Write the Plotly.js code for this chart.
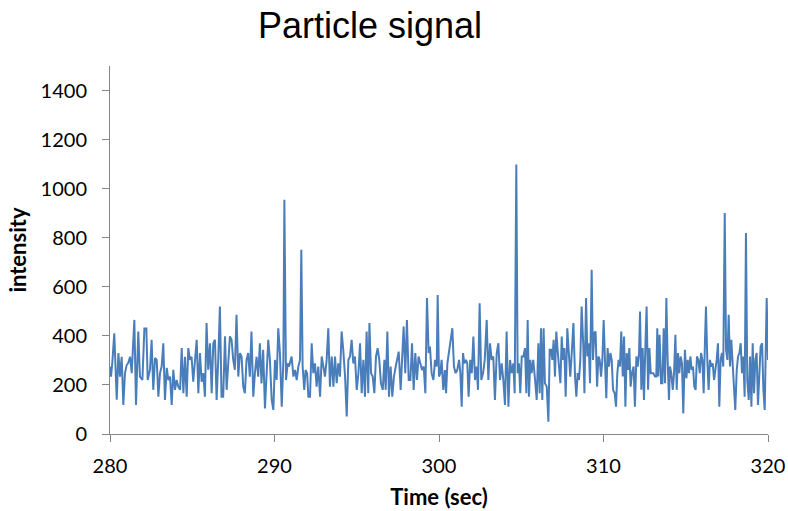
<!DOCTYPE html>
<html>
<head>
<meta charset="utf-8">
<script src="https://cdn.plot.ly/plotly-3.0.1.min.js"></script>
<style>
html,body{margin:0;padding:0;background:#fff;}
#chart{width:788px;height:511px;}
</style>
</head>
<body>
<div id="chart"></div>
<script>
// Time stamps (sec)
var timeSec = [
280.00,280.06,280.14,280.26,280.41,280.51,280.61,280.71,280.81,280.91,281.01,281.11,281.22,281.32,281.48,281.58,281.72,281.82,281.97,282.09,282.21,282.29,282.43,282.53,282.63,282.74,282.84,282.94,283.04,283.14,283.24,283.34,283.45,283.55,283.65,283.75,283.85,283.95,284.05,284.15,284.26,284.36,284.46,284.56,284.66,284.76,284.86,
284.96,285.06,285.17,285.27,285.37,285.47,285.57,285.67,285.77,285.87,285.97,286.08,286.18,286.28,286.38,286.48,286.58,286.68,286.78,286.88,286.99,287.09,287.19,287.29,287.39,287.49,287.59,287.69,287.80,287.90,288.00,288.10,288.20,288.30,288.40,288.50,288.60,288.71,288.81,288.91,289.01,289.11,289.21,289.31,289.42,289.52,289.62,289.72,
289.83,289.93,290.03,290.13,290.23,290.33,290.44,290.54,290.60,290.70,290.80,290.88,290.96,291.04,291.15,291.25,291.35,291.45,291.55,291.63,291.71,291.81,291.89,291.98,292.06,292.16,292.26,292.36,292.46,292.56,292.66,292.77,292.87,292.97,293.07,293.17,293.27,293.37,293.48,293.58,293.68,293.78,293.88,293.98,294.08,294.18,294.29,294.39,294.49,294.59,
294.69,294.79,294.89,295.00,295.10,295.20,295.30,295.40,295.50,295.60,295.70,295.77,295.87,295.97,296.07,296.17,296.27,296.37,296.47,296.58,296.68,296.76,296.86,296.96,297.06,297.16,297.26,297.37,297.47,297.55,297.67,297.77,297.85,297.95,298.05,298.16,298.26,298.36,298.46,298.56,298.66,298.76,298.87,298.97,299.07,299.17,299.27,299.37,299.45,
299.55,299.66,299.76,299.86,299.92,300.00,300.08,300.16,300.26,300.36,300.43,300.51,300.61,300.71,300.81,300.91,301.01,301.11,301.22,301.30,301.38,301.46,301.54,301.64,301.72,301.80,301.90,301.99,302.09,302.19,302.29,302.37,302.47,302.57,302.68,302.78,302.90,303.00,303.10,303.20,303.30,303.40,303.51,303.61,303.71,303.81,303.91,304.01,304.11,304.22,304.32,
304.42,304.52,304.60,304.70,304.78,304.86,304.94,305.03,305.13,305.23,305.31,305.39,305.47,305.55,305.63,305.73,305.84,305.94,306.04,306.12,306.20,306.28,306.36,306.44,306.55,306.65,306.73,306.81,306.89,306.97,307.05,307.13,307.21,307.30,307.38,307.46,307.54,307.62,307.70,307.80,307.90,307.98,308.07,308.17,308.27,308.35,308.43,308.51,308.59,308.67,308.77,308.84,308.94,309.02,309.10,309.18,
309.28,309.36,309.44,309.52,309.61,309.69,309.77,309.85,309.93,310.01,310.09,310.17,310.25,310.33,310.42,310.50,310.58,310.68,310.76,310.84,310.92,311.00,311.08,311.17,311.25,311.33,311.41,311.49,311.57,311.65,311.73,311.83,311.91,312.00,312.08,312.16,312.22,312.30,312.38,312.46,312.54,312.62,312.71,312.79,312.87,312.95,313.03,313.13,313.21,313.27,313.33,313.41,313.50,313.58,313.66,313.74,313.82,313.90,313.98,314.04,
314.12,314.21,314.29,314.37,314.45,314.53,314.61,314.69,314.77,314.85,314.95,315.04,315.12,315.20,315.28,315.36,315.44,315.52,315.60,315.68,315.77,315.85,315.93,316.01,316.09,316.17,316.23,316.31,316.39,316.47,316.56,316.64,316.72,316.80,316.88,316.96,317.04,317.12,317.20,317.28,317.37,317.45,317.53,317.61,317.69,317.77,317.85,317.93,318.01,318.10,318.18,318.26,318.34,318.42,318.50,318.58,318.66,318.74,318.83,318.91,
318.99,319.07,319.15,319.23,319.31,319.39,319.47,319.55,319.64,319.72,319.80,319.86,319.92,320.00
];
// Intensity values
var intensity = [
275,234,290,410,140,330,234,315,118,248,280,290,315,248,465,118,418,234,220,430,430,220,262,384,180,310,302,152,248,275,370,139,270,220,234,118,262,180,220,193,180,350,166,315,152,350,302,
315,213,315,384,166,330,213,248,152,452,262,370,166,370,384,139,302,520,152,152,398,180,290,398,384,302,262,486,234,330,315,193,166,302,330,234,418,152,248,315,234,370,206,343,104,248,384,302,
139,98,302,220,431,330,111,302,955,220,288,275,302,316,234,261,220,275,302,751,275,180,261,248,152,152,370,248,288,193,275,152,316,275,234,302,431,193,316,193,316,207,288,234,418,343,234,71,302,316,
384,288,316,180,248,370,166,302,152,418,166,452,248,234,166,316,350,302,207,180,302,180,418,152,275,152,234,275,302,336,180,302,438,248,465,220,220,370,180,330,220,316,288,261,275,166,554,330,356,
248,220,302,275,567,234,248,302,180,261,166,288,330,370,431,275,248,261,302,248,111,330,288,302,288,152,302,248,397,220,275,180,533,220,248,302,465,220,370,302,316,139,330,370,220,288,220,118,418,111,302,
248,288,166,1098,248,288,166,316,316,350,166,465,152,302,248,302,220,139,370,166,431,139,431,207,193,50,343,343,302,384,234,418,343,275,207,397,302,350,152,431,288,234,330,452,234,152,248,220,302,520,363,166,554,316,370,207,
669,302,411,418,193,316,302,234,302,465,302,146,350,275,330,302,180,166,111,248,302,275,418,234,397,111,330,261,350,193,248,275,111,316,275,330,499,180,350,139,343,520,180,350,248,248,248,234,234,431,234,404,207,207,431,207,554,302,139,275,
248,180,248,404,180,330,248,316,288,84,343,227,302,248,316,261,275,193,180,316,302,248,330,302,166,384,520,302,180,302,275,288,220,261,302,370,111,302,330,275,901,343,302,486,275,384,275,220,98,261,316,330,370,248,316,152,819,220,139,316,
111,370,166,302,330,118,275,356,370,180,98,275,554,302
];
var xTicks = [280, 290, 300, 310, 320];
var yTicks = [0, 200, 400, 600, 800, 1000, 1200, 1400];

var axisGray = '#868686';
var tickFont = {family: 'Lato, Open Sans, sans-serif', size: 20, color: '#000'};
var axisTitleFont = {family: 'Lato, Open Sans, sans-serif', size: 22, color: '#000', weight: 'bold'};

var trace = {
  x: timeSec,
  y: intensity,
  type: 'scatter',
  mode: 'lines',
  line: {color: '#4a7ebb', width: 2},
  hoverinfo: 'x+y'
};

var layout = {
  width: 788,
  height: 511,
  margin: {l: 110, r: 20, t: 66, b: 77},
  paper_bgcolor: '#fff',
  plot_bgcolor: '#fff',
  showlegend: false,
  title: {
    text: 'Particle signal',
    font: {family: 'Liberation Sans, Arial, sans-serif', size: 36, color: '#000'},
    x: 370 / 788, xref: 'container', xanchor: 'center',
    y: 1 - 25 / 511, yref: 'container', yanchor: 'middle'
  },
  xaxis: {
    range: [280, 320],
    tickvals: xTicks,
    ticktext: xTicks.map(String),
    ticks: 'outside', ticklen: 7, tickcolor: axisGray, tickwidth: 1,
    showline: true, linecolor: axisGray, linewidth: 1,
    showgrid: false, zeroline: false,
    tickfont: tickFont,
    ticklabelstandoff: 7,
    title: {text: 'Time (sec)', font: axisTitleFont, standoff: 13},
    automargin: false
  },
  yaxis: {
    range: [0, 1500],
    tickvals: yTicks,
    ticktext: yTicks.map(String),
    ticks: 'outside', ticklen: 7, tickcolor: axisGray, tickwidth: 1,
    showline: true, linecolor: axisGray, linewidth: 1,
    showgrid: false, zeroline: false,
    tickfont: tickFont,
    ticklabelstandoff: 11,
    title: {text: 'intensity', font: axisTitleFont, standoff: 7},
    automargin: false
  }
};

Plotly.newPlot('chart', [trace], layout, {displayModeBar: false, staticPlot: true});
</script>
</body>
</html>
